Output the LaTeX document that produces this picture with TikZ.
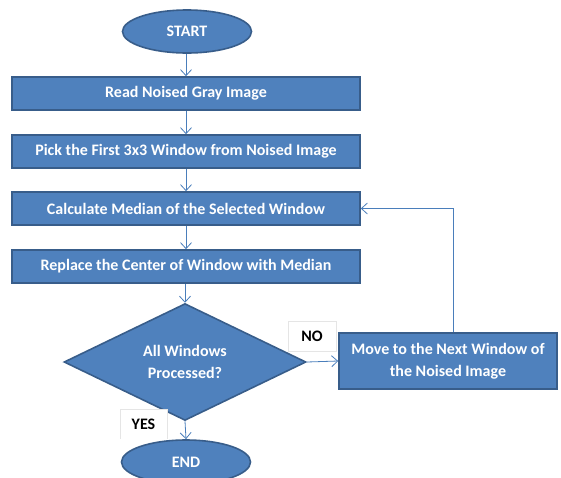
\documentclass[tikz,border=0pt]{standalone}
\usepackage{fontspec}
\setmainfont{Carlito}
\usetikzlibrary{shapes.geometric,arrows.meta}
\definecolor{fillblue}{HTML}{4F81BD}
\definecolor{edgeblue}{HTML}{385D8A}
\definecolor{lineblue}{HTML}{4A7EBB}
\tikzset{
  procbox/.style={draw=edgeblue,line width=1.6pt,fill=fillblue,text=white,font=\bfseries\fontsize{16}{18}\selectfont,minimum width=348pt,minimum height=33pt,inner sep=0pt},
  termbox/.style={ellipse,draw=edgeblue,line width=1.6pt,fill=fillblue,text=white,font=\bfseries\fontsize{16}{18}\selectfont,minimum width=129pt,minimum height=43pt,inner sep=0pt},
  decbox/.style={diamond,draw=edgeblue,line width=1.6pt,fill=fillblue,text=white,font=\bfseries\fontsize{16}{22}\selectfont,minimum width=242pt,minimum height=106pt,inner sep=0pt,align=center},
  lblbox/.style={fill=white,text=black,font=\bfseries\fontsize{16}{18}\selectfont,inner sep=0pt},
  lblline/.style={draw=black!10,line width=0.6pt},
  arr/.style={draw=lineblue,line width=0.8pt,-{Straight Barb[length=6pt,width=11pt,line width=0.8pt]}},
}
\begin{document}
\begin{tikzpicture}[x=1pt,y=-1pt]
\useasboundingbox (0,0) rectangle (561,477);
\node[termbox] (start) at (187,31.5) {START};
\node[procbox] (read) at (186,93.5) {Read Noised Gray Image};
\node[procbox] (pick) at (186,151.5) {Pick the First 3x3 Window from Noised Image};
\node[procbox] (calc) at (186,208.5) {Calculate Median of the Selected Window};
\node[procbox] (repl) at (186,266.5) {Replace the Center of Window with Median};
\node[decbox] (dec) at (185,362) {All Windows\\Processed?};
\node[procbox,minimum width=218pt,minimum height=56pt,align=center,font=\bfseries\fontsize{16}{22}\selectfont] (move) at (448,361) {Move to the Next Window of\\the Noised Image};
\node[termbox,minimum height=44pt] (end) at (186,462) {END};
\node[lblbox,minimum width=48pt,minimum height=30pt] (no) at (312,336) {NO};
\draw[lblline] (no.south west) rectangle (no.north east);
\node[lblbox,minimum width=47pt,minimum height=30pt] (yes) at (143.5,424) {YES};
\draw[lblline] (yes.south west) -- (yes.north west) -- (yes.north east) -- (yes.south east);
\coordinate (loopx) at (453,0);
\draw[arr] (start.south -| read.north) -- (read.north);
\draw[arr] (read) -- (pick);
\draw[arr] (pick) -- (calc);
\draw[arr] (calc) -- (repl);
\draw[arr] (repl.south -| dec.north) -- (dec.north);
\draw[arr] (dec.east) -- (move.west);
\draw[arr] (dec.south) -- (end.north);
\draw[arr] (move.north -| loopx) |- (calc.east);
\end{tikzpicture}
\end{document}
